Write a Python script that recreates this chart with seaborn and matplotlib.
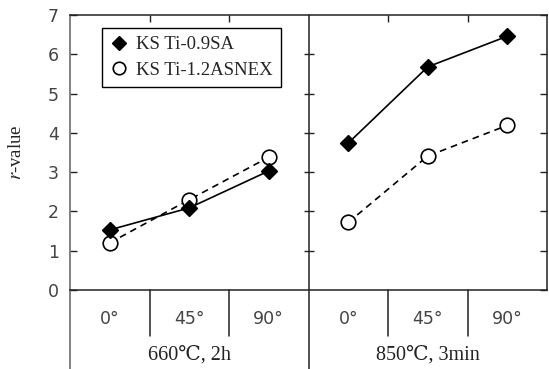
import matplotlib
matplotlib.use('Agg')
import matplotlib.pyplot as plt
import seaborn as sns
import pandas as pd
from matplotlib.lines import Line2D

# ---- data ----
angles = ['0°', '45°', '90°']
conditions = ['660℃, 2h', '850℃, 3min']
series_names = ['KS Ti-0.9SA', 'KS Ti-1.2ASNEX']
ti09_660 = [1.53, 2.09, 3.03]
ti09_850 = [3.74, 5.68, 6.46]
ti12_660 = [1.20, 2.30, 3.38]
ti12_850 = [1.72, 3.41, 4.19]
yticks = [0, 1, 2, 3, 4, 5, 6, 7]

values = {
    (series_names[0], conditions[0]): ti09_660,
    (series_names[0], conditions[1]): ti09_850,
    (series_names[1], conditions[0]): ti12_660,
    (series_names[1], conditions[1]): ti12_850,
}

rows = []
for ci, cond in enumerate(conditions):
    for name in series_names:
        for ai, ang in enumerate(angles):
            rows.append(dict(pos=ci * len(angles) + ai, angle=ang, cond=cond,
                             series=name, value=values[(name, cond)][ai]))
df = pd.DataFrame(rows)

sns.set_style('white')
plt.rcParams['mathtext.fontset'] = 'stix'
SERIF = ['Liberation Serif', 'DejaVu Serif', 'DejaVu Sans']
SANS = ['DejaVu Sans']

fig = plt.figure(figsize=(5.49, 3.69), dpi=100)
ax = fig.add_axes([70 / 549, 79 / 369, 477 / 549, 275 / 369])

styles = {
    series_names[1]: dict(marker='o', markersize=10.5, markerfacecolor='white',
                          markeredgecolor='black', markeredgewidth=1.2,
                          linestyle=(0, (4, 3)), zorder=3),
    series_names[0]: dict(marker='D', markersize=8, markerfacecolor='black',
                          markeredgecolor='black', markeredgewidth=1.0,
                          linestyle='-', zorder=4),
}

for name in [series_names[1], series_names[0]]:
    for cond in conditions:
        sub = df[(df.series == name) & (df.cond == cond)]
        sns.lineplot(data=sub, x='pos', y='value', ax=ax, color='black',
                     linewidth=1.2, estimator=None, legend=False,
                     **styles[name])

ax.set_xlim(-0.5, 5.5)
ax.set_ylim(0, 7)
ax.set_xlabel('')
ax.set_ylabel(r'$r$-value', fontsize=13.5, family=SERIF, color='#222222')
ax.yaxis.set_label_coords(-0.094, 0.5)

# frame
for side in ['top', 'right', 'bottom']:
    ax.spines[side].set_color('#222222')
    ax.spines[side].set_linewidth(1.1)
ax.spines['left'].set_color('#777777')
ax.spines['left'].set_linewidth(1.3)

ax.set_yticks(yticks)
ax.set_yticklabels([str(t) for t in yticks], family=SANS, color='#444444')
ax.tick_params(axis='y', which='both', direction='in', length=5, width=1,
               left=True, right=True, labelsize=12.5, pad=8, color='#222222')

seps = [0.5, 1.5, 3.5, 4.5]
ax.set_xticks(seps)
ax.tick_params(axis='x', which='both', direction='in', length=5, width=1,
               bottom=False, top=True, labelbottom=False, labeltop=False,
               color='#222222')

# middle divider with crossing ticks
ax.plot([2.5, 2.5], [7, -2.02], color='#222222', lw=1.1, clip_on=False, zorder=2)
ax.plot([2.5] * 6, yticks[1:7], ls='none', marker='_', ms=7, mew=1,
        color='#222222', clip_on=False)
# left border extended below axis
ax.plot([-0.5, -0.5], [0, -2.02], color='#777777', lw=1.3, clip_on=False)

# category separators below axis
for s in seps:
    ax.plot([s, s], [0, -1.17], color='#222222', lw=1.1, clip_on=False)

# angle labels
for ci, cond in enumerate(conditions):
    for ai, ang in enumerate(angles):
        ax.text(ci * len(angles) + ai, -0.74, ang, ha='center', va='center',
                fontsize=12.5, family=SANS, color='#444444')
    ax.text(ci * len(angles) + 1, -1.65, cond, ha='center', va='center',
            fontsize=14.5, family=SERIF, color='#222222')

handles = [Line2D([], [], color='black', marker='D', markersize=7, ls='none',
                  markerfacecolor='black'),
           Line2D([], [], color='black', marker='o', markersize=9, ls='none',
                  markerfacecolor='white', markeredgewidth=1.2)]
leg = ax.legend(handles, series_names, loc='upper left',
                bbox_to_anchor=(0.067, 0.953), frameon=True, fancybox=False,
                edgecolor='black', framealpha=1, borderpad=0.45,
                handlelength=0.9, handletextpad=0.45, labelspacing=0.45,
                prop={'family': SERIF, 'size': 13.5}, borderaxespad=0)
leg.get_frame().set_linewidth(1.0)

fig.savefig('out.png', dpi=100)
